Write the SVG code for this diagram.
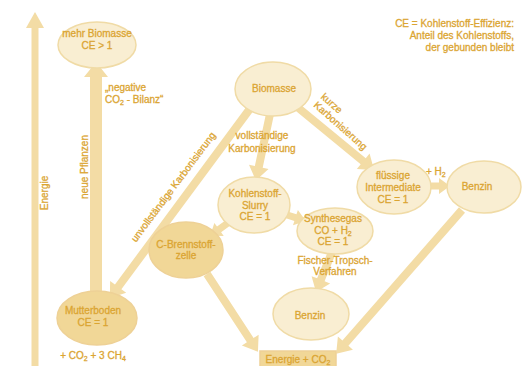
<svg xmlns="http://www.w3.org/2000/svg" width="523" height="366" viewBox="0 0 523 366">
<style>
text{font-family:"Liberation Sans",Arial,sans-serif;font-size:10px;fill:#dba532;stroke:#dba532;stroke-width:0.3}
.c{text-anchor:middle}
.r{text-anchor:end}
.lt{fill:#f9eed2;stroke:#f0dba6;stroke-width:1.5}
.dk{fill:#f1d797;stroke:#eed196;stroke-width:1.5}
.ar{fill:#f3dca5}
.sub{font-size:7px}
</style>
<rect width="523" height="366" fill="#ffffff"/>
<g id="connectors">
<polygon class="ar" points="31.5,366 31.5,28 26,28 35,12 44,28 38.5,28 38.5,366"/>
<polygon class="ar" points="90,292 90,77 84,77 96,62 108,77 102,77 102,292" fill="#f1d89f"/>
<path class="ar" transform="translate(252,106) rotate(126.5)" d="M0,-4 H225 V-10 L239,0 L225,10 V4 H0 Z"/>
<path class="ar" transform="translate(270,114) rotate(102)" d="M0,-4 H54 V-10 L68,0 L54,10 V4 H0 Z"/>
<path class="ar" transform="translate(296,106) rotate(39.4)" d="M0,-4 H87 V-10 L101,0 L87,10 V4 H0 Z"/>
<path class="ar" transform="translate(284,214) rotate(17.7)" d="M0,-3.5 H12 V-8 L23,0 L12,8 V3.5 H0 Z"/>
<path class="ar" transform="translate(232,220) rotate(144)" d="M0,-3.5 H16 V-8 L27,0 L16,8 V3.5 H0 Z"/>
<path class="ar" transform="translate(207,274) rotate(56.8)" d="M0,-4 H79 V-10 L93,0 L79,10 V4 H0 Z"/>
<path class="ar" transform="translate(332,252) rotate(111.8)" d="M0,-4 H30 V-10 L43,0 L30,10 V4 H0 Z"/>
<path class="ar" transform="translate(428,186) rotate(0)" d="M0,-3.5 H11 V-8 L22,0 L11,8 V3.5 H0 Z"/>
<path class="ar" transform="translate(462,210) rotate(131.2)" d="M0,-4 H177 V-10 L191,0 L177,10 V4 H0 Z"/>
</g>
<g id="energie-label"><text transform="translate(48,193) rotate(-90)" class="c">Energie</text></g>
<g id="pflanzen-label"><text transform="translate(88,167) rotate(-90)" class="c">neue Pflanzen</text></g>
<g id="neg-label"><text x="105" y="91">„negative</text><text x="105" y="103">CO<tspan class="sub" dy="2">2</tspan><tspan dy="-2"> - Bilanz“</tspan></text></g>
<g id="unv-label"><text transform="translate(176,189) rotate(-53.3)" class="c">unvollständige Karbonisierung</text></g>
<g id="voll-label"><text x="262" y="138.5" class="c">vollständige</text><text x="262" y="151.5" class="c">Karbonisierung</text></g>
<g id="kurz-label" transform="translate(313,106) rotate(41.5)"><text x="0" y="-11">kurze</text><text x="0" y="0">Karbonisierung</text></g>
<g id="ft-label"><text x="335" y="264" class="c">Fischer-Tropsch-</text><text x="335" y="275" class="c">Verfahren</text></g>
<g id="h2-label"><text x="426" y="175">+ H<tspan class="sub" dy="2">2</tspan></text></g>
<g id="legend"><text x="514" y="27" class="r">CE = Kohlenstoff-Effizienz:</text><text x="514" y="39" class="r">Anteil des Kohlenstoffs,</text><text x="514" y="51" class="r">der gebunden bleibt</text></g>
<g id="mehr-biomasse"><ellipse class="lt" cx="97" cy="45" rx="39" ry="23"/><text x="97" y="37" class="c">mehr Biomasse</text><text x="97" y="49" class="c">CE &gt; 1</text></g>
<g id="biomasse"><ellipse class="lt" cx="273" cy="89" rx="38" ry="27"/><text x="274" y="92" class="c">Biomasse</text></g>
<g id="slurry"><ellipse class="lt" cx="254" cy="205" rx="36" ry="28"/><text x="255" y="197" class="c">Kohlenstoff-</text><text x="255" y="209" class="c">Slurry</text><text x="255" y="220" class="c">CE = 1</text></g>
<g id="brennstoffzelle"><ellipse class="dk" cx="186" cy="250" rx="37" ry="28"/><text x="186" y="248" class="c">C-Brennstoff-</text><text x="186" y="259" class="c">zelle</text></g>
<g id="synthesegas"><ellipse class="lt" cx="335" cy="231" rx="38" ry="23"/><text x="333" y="222" class="c">Synthesegas</text><text x="333" y="234" class="c">CO + H<tspan class="sub" dy="2">2</tspan></text><text x="333" y="245" class="c">CE = 1</text></g>
<g id="intermediate"><ellipse class="lt" cx="394" cy="187" rx="37" ry="27"/><text x="393" y="179" class="c">flüssige</text><text x="393" y="191" class="c">Intermediate</text><text x="393" y="203" class="c">CE = 1</text></g>
<g id="benzin-oben"><ellipse class="lt" cx="484" cy="187" rx="37" ry="26"/><text x="477" y="190" class="c">Benzin</text></g>
<g id="benzin-unten"><ellipse class="lt" cx="311" cy="314" rx="38" ry="26"/><text x="310" y="319" class="c">Benzin</text></g>
<g id="mutterboden"><ellipse class="dk" cx="97" cy="318" rx="40" ry="27"/><text x="93" y="314" class="c">Mutterboden</text><text x="93" y="326" class="c">CE = 1</text><text x="93" y="359" class="c">+ CO<tspan class="sub" dy="2">2</tspan><tspan dy="-2"> + 3 CH</tspan><tspan class="sub" dy="2">4</tspan></text></g>
<g id="energie-co2"><rect class="dk" x="260" y="351" width="76" height="16" stroke="none"/><text x="298" y="363" class="c">Energie + CO<tspan class="sub" dy="2">2</tspan></text></g>
</svg>
